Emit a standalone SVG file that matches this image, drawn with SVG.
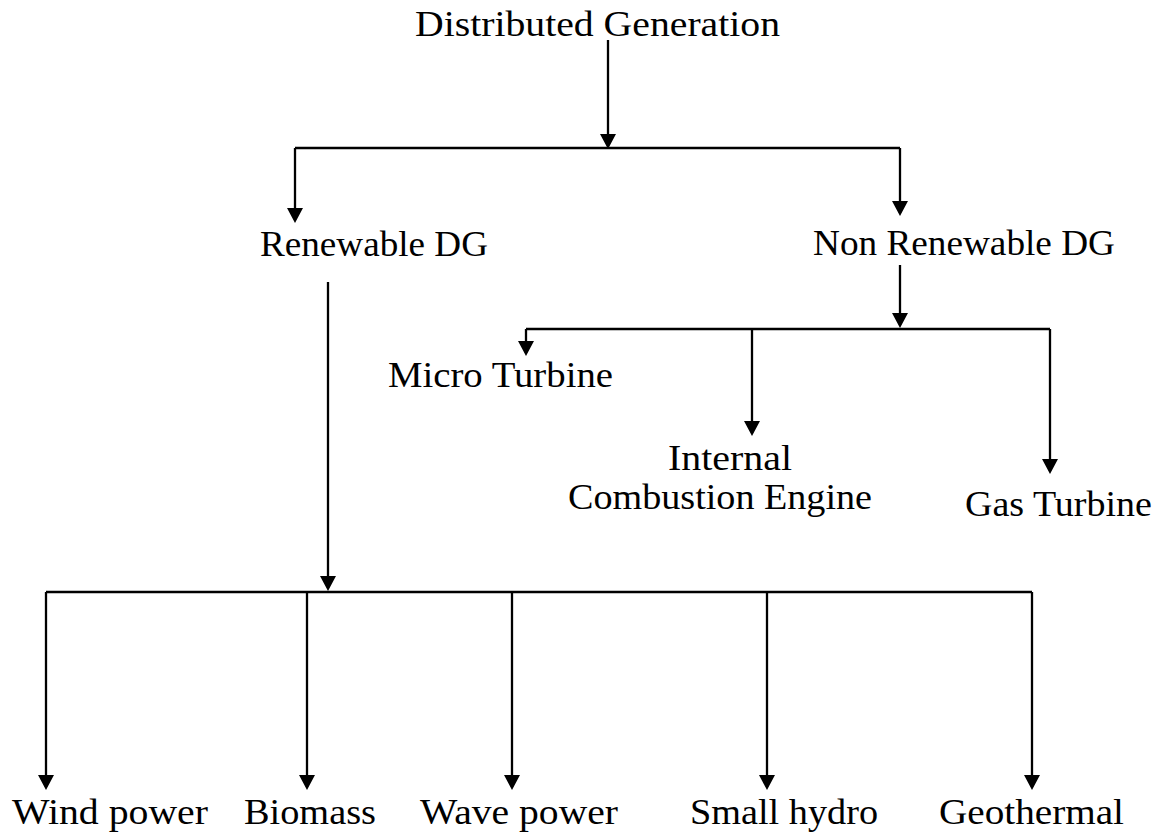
<svg xmlns="http://www.w3.org/2000/svg" width="1162" height="832" viewBox="0 0 1162 832">
<style>
.t{font-family:"Liberation Serif","Times New Roman",serif;font-size:35px;fill:#000}
.c{stroke:#000;stroke-width:2.3;fill:none}
</style>
<defs>
<marker id="ah" markerUnits="userSpaceOnUse" markerWidth="15" markerHeight="16" refX="12" refY="8" orient="auto">
<path d="M0,0 L15,8 L0,16 z" fill="#000"/>
</marker>
</defs>
<rect width="1162" height="832" fill="#fff"/>
<g id="connectors">
<path class="c" d="M608,40 V146" marker-end="url(#ah)"/>
<path class="c" d="M295,148 H900"/>
<path class="c" d="M295,148 V220" marker-end="url(#ah)"/>
<path class="c" d="M900,148 V213" marker-end="url(#ah)"/>
<path class="c" d="M900,265 V325" marker-end="url(#ah)"/>
<path class="c" d="M526,329 H1050"/>
<path class="c" d="M526,329 V353" marker-end="url(#ah)"/>
<path class="c" d="M752,329 V433" marker-end="url(#ah)"/>
<path class="c" d="M1050,329 V471" marker-end="url(#ah)"/>
<path class="c" d="M328,282 V588" marker-end="url(#ah)"/>
<path class="c" d="M46,592 H1032"/>
<path class="c" d="M46,592 V787" marker-end="url(#ah)"/>
<path class="c" d="M307,592 V787" marker-end="url(#ah)"/>
<path class="c" d="M512,592 V787" marker-end="url(#ah)"/>
<path class="c" d="M767,592 V787" marker-end="url(#ah)"/>
<path class="c" d="M1032,592 V787" marker-end="url(#ah)"/>
</g>
<g id="n-dg"><text class="t" x="415" y="36" textLength="365" lengthAdjust="spacingAndGlyphs">Distributed Generation</text></g>
<g id="n-ren"><text class="t" x="260" y="256" textLength="228" lengthAdjust="spacingAndGlyphs">Renewable DG</text></g>
<g id="n-nonren"><text class="t" x="813" y="255" textLength="302" lengthAdjust="spacingAndGlyphs">Non Renewable DG</text></g>
<g id="n-micro"><text class="t" x="388" y="387" textLength="225" lengthAdjust="spacingAndGlyphs">Micro Turbine</text></g>
<g id="n-ice"><text class="t"><tspan x="668" y="470" textLength="124" lengthAdjust="spacingAndGlyphs">Internal</tspan><tspan x="568" y="509" textLength="304" lengthAdjust="spacingAndGlyphs">Combustion Engine</tspan></text></g>
<g id="n-gas"><text class="t" x="965" y="516" textLength="187" lengthAdjust="spacingAndGlyphs">Gas Turbine</text></g>
<g id="n-wind"><text class="t" x="12" y="824" textLength="196" lengthAdjust="spacingAndGlyphs">Wind power</text></g>
<g id="n-bio"><text class="t" x="244" y="824" textLength="132" lengthAdjust="spacingAndGlyphs">Biomass</text></g>
<g id="n-wave"><text class="t" x="420" y="824" textLength="198" lengthAdjust="spacingAndGlyphs">Wave power</text></g>
<g id="n-hydro"><text class="t" x="690" y="824" textLength="188" lengthAdjust="spacingAndGlyphs">Small hydro</text></g>
<g id="n-geo"><text class="t" x="939" y="824" textLength="185" lengthAdjust="spacingAndGlyphs">Geothermal</text></g>
</svg>
